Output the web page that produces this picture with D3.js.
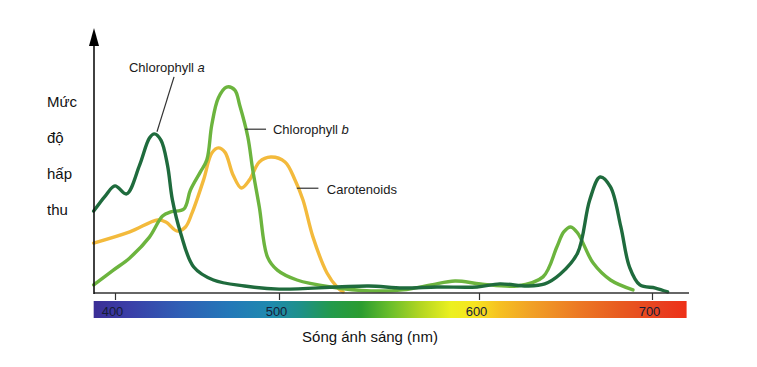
<!DOCTYPE html>
<html>
<head>
<meta charset="utf-8">
<script src="https://cdn.jsdelivr.net/npm/d3@7/dist/d3.min.js"></script>
<style>
  body { margin: 0; background: #fff; }
  svg { display: block; font-family: "Liberation Sans", Arial, sans-serif; }
</style>
</head>
<body>
<div id="chart"></div>
<script>
(function () {
  "use strict";

  // wavelength (nm) / relative absorbance
  var chlAWave = [387, 394, 400, 407, 415, 421, 424, 428, 432, 435, 440, 448, 460, 479, 500, 529, 545, 562, 579, 599, 612, 628, 638, 647, 657, 664, 670, 676, 682, 687, 693, 702, 709];
  var chlAValue = [31.5, 37.3, 41.2, 38.1, 49.2, 59.6, 61.2, 58.8, 49.2, 35.8, 23.1, 10.0, 5.0, 2.7, 1.5, 2.3, 2.7, 1.9, 2.3, 2.3, 3.5, 2.7, 3.5, 7.3, 15.4, 35.8, 44.6, 40.8, 25.4, 10.0, 3.1, 1.9, 0.4];

  var chlBWave = [387, 399, 409, 421, 429, 434, 442, 446, 452, 456, 459, 463, 468, 473, 476, 481, 484, 488, 493, 499, 509, 526, 546, 562, 576, 588, 601, 622, 637, 645, 649, 653, 657, 666, 676, 689];
  var chlBValue = [3.1, 8.8, 13.5, 21.5, 29.6, 31.2, 32.3, 39.6, 46.5, 51.2, 64.6, 75, 79.2, 78.1, 72.3, 60, 47.3, 33.1, 13.8, 8.8, 5, 2.3, 0.8, 1.2, 3.1, 4.6, 3.5, 2.7, 6.2, 17.7, 23.5, 25.4, 23.1, 11.5, 5, 1.2];

  var carWave = [387, 409, 426, 431, 438, 443, 447, 454, 459, 463, 467, 472, 477, 482, 488, 495, 503, 508, 512, 517, 524, 529, 532];
  var carValue = [19.2, 23.5, 28.1, 27.3, 23.8, 25.4, 30.8, 43.5, 53.8, 55.8, 54.2, 45.4, 40.4, 43.5, 50.4, 52.3, 50.4, 43.5, 35.8, 21.5, 7.7, 2.3, 0.4];

  var tickValues = [400, 500, 600, 700];

  var spectrumWave = [387, 409, 440, 470, 495, 511, 526, 541, 556, 571, 586, 598, 612, 630, 658, 682, 705, 720];
  var spectrumColor = ["#3b2e96", "#3a3fa8", "#2f5fb5", "#2378b8", "#1f8aae", "#1e9088", "#239a4c", "#2b9c30", "#6cbf2a", "#b4d622", "#ecf020", "#f7e41f", "#f6c021", "#f1a126", "#ec7824", "#e85a20", "#e84020", "#ee3018"];

  var yLabel = ["Mức", "độ", "hấp", "thu"];

  var w = 757,
    h = 367,
    svg,
    x,
    y,
    colors = {
      chlA: "#1f6b3d",
      chlB: "#6cb43e",
      car: "#f3ba3c"
    };

  function createSvg() {
    svg = d3.select("#chart")
      .append("svg")
      .attr("width", w)
      .attr("height", h);
  }

  function getScales() {
    // the wavelength axis in the picture is not evenly spaced
    x = d3.scaleLinear()
      .domain([400, 500, 600, 700])
      .range([115, 279, 479, 652]);
    y = d3.scaleLinear()
      .domain([0, 100])
      .range([293, 33]);
  }

  function createSpectrum() {
    var grad = svg.append("defs")
      .append("linearGradient")
      .attr("id", "spectrum")
      .attr("gradientUnits", "userSpaceOnUse")
      .attr("x1", x(spectrumWave[0]))
      .attr("x2", x(spectrumWave[spectrumWave.length - 1]))
      .attr("y1", 0)
      .attr("y2", 0);

    var x0 = x(spectrumWave[0]),
      x1 = x(spectrumWave[spectrumWave.length - 1]);

    grad.selectAll("stop")
      .data(spectrumWave)
      .enter().append("stop")
      .attr("offset", function(d) { return (x(d) - x0) / (x1 - x0); })
      .attr("stop-color", function(d, i) { return spectrumColor[i]; });

    svg.append("rect")
      .attr("x", x0)
      .attr("y", 301)
      .attr("width", x1 - x0)
      .attr("height", 17)
      .attr("fill", "url(#spectrum)");
  }

  function createAxes() {
    var axis = d3.axisBottom(x)
      .tickValues(tickValues)
      .tickSize(7)
      .tickPadding(7)
      .tickFormat(d3.format("d"));

    var g = svg.append("g")
      .attr("transform", "translate(0," + y(0) + ")")
      .call(axis);

    g.select(".domain").remove();
    g.selectAll(".tick line")
      .attr("stroke", "#333")
      .attr("stroke-width", 1.2);
    g.selectAll(".tick text")
      .attr("dx", -3)
      .attr("fill", "#161c36")
      .style("font-size", "13px")
      .style("font-family", "Liberation Sans, Arial, sans-serif");

    // x axis line
    svg.append("line")
      .attr("x1", 94)
      .attr("x2", 689)
      .attr("y1", y(0))
      .attr("y2", y(0))
      .attr("stroke", "#333")
      .attr("stroke-width", 1.6);

    // y axis with arrow
    svg.append("line")
      .attr("x1", 94)
      .attr("x2", 94)
      .attr("y1", y(0) + 1)
      .attr("y2", 42)
      .attr("stroke", "#111")
      .attr("stroke-width", 1.6);

    svg.append("path")
      .attr("d", "M94,28 L99,46 L89,46 Z")
      .attr("fill", "#000");

    svg.append("text")
      .attr("x", 370)
      .attr("y", 342)
      .attr("text-anchor", "middle")
      .attr("fill", "#111")
      .style("font-size", "15px")
      .text("Sóng ánh sáng (nm)");

    svg.selectAll(".ylab")
      .data(yLabel)
      .enter().append("text")
      .attr("class", "ylab")
      .attr("x", 47)
      .attr("y", function(d, i) { return 107 + i * 36; })
      .attr("fill", "#111")
      .style("font-size", "15px")
      .text(function(d) { return d; });
  }

  function drawCurve(waves, values, color) {
    var pts = waves.map(function(d, i) { return [d, values[i]]; });
    var line = d3.line()
      .x(function(d) { return x(d[0]); })
      .y(function(d) { return y(d[1]); })
      .curve(d3.curveCatmullRom.alpha(0.5));

    svg.append("path")
      .datum(pts)
      .attr("d", line)
      .attr("fill", "none")
      .attr("stroke", color)
      .attr("stroke-width", 3.4)
      .attr("stroke-linejoin", "round")
      .attr("stroke-linecap", "round");
  }

  function addLabel(lx1, ly1, lx2, ly2, tx, ty, name, italic) {
    svg.append("line")
      .attr("x1", x(lx1)).attr("y1", y(ly1))
      .attr("x2", x(lx2)).attr("y2", y(ly2))
      .attr("stroke", "#333")
      .attr("stroke-width", 1.2);

    var t = svg.append("text")
      .attr("x", x(tx))
      .attr("y", y(ty))
      .attr("fill", "#1a1a1a")
      .style("font-size", "13px")
      .text(name);
    if (italic) {
      t.append("tspan").text(" ");
      t.append("tspan").style("font-style", "italic").text(italic);
    }
  }

  function makeChart() {
    createSvg();
    getScales();
    createSpectrum();
    drawCurve(carWave, carValue, colors.car);
    drawCurve(chlBWave, chlBValue, colors.chlB);
    drawCurve(chlAWave, chlAValue, colors.chlA);
    createAxes();

    addLabel(436, 83.1, 425.6, 62, 408.5, 85, "Chlorophyll", "a");
    addLabel(479.3, 63, 492.1, 63, 496.3, 61.2, "Chlorophyll", "b");
    addLabel(508.9, 40.3, 519.7, 40.3, 523.9, 38.1, "Carotenoids", null);
  }

  makeChart();
})();
</script>
</body>
</html>
